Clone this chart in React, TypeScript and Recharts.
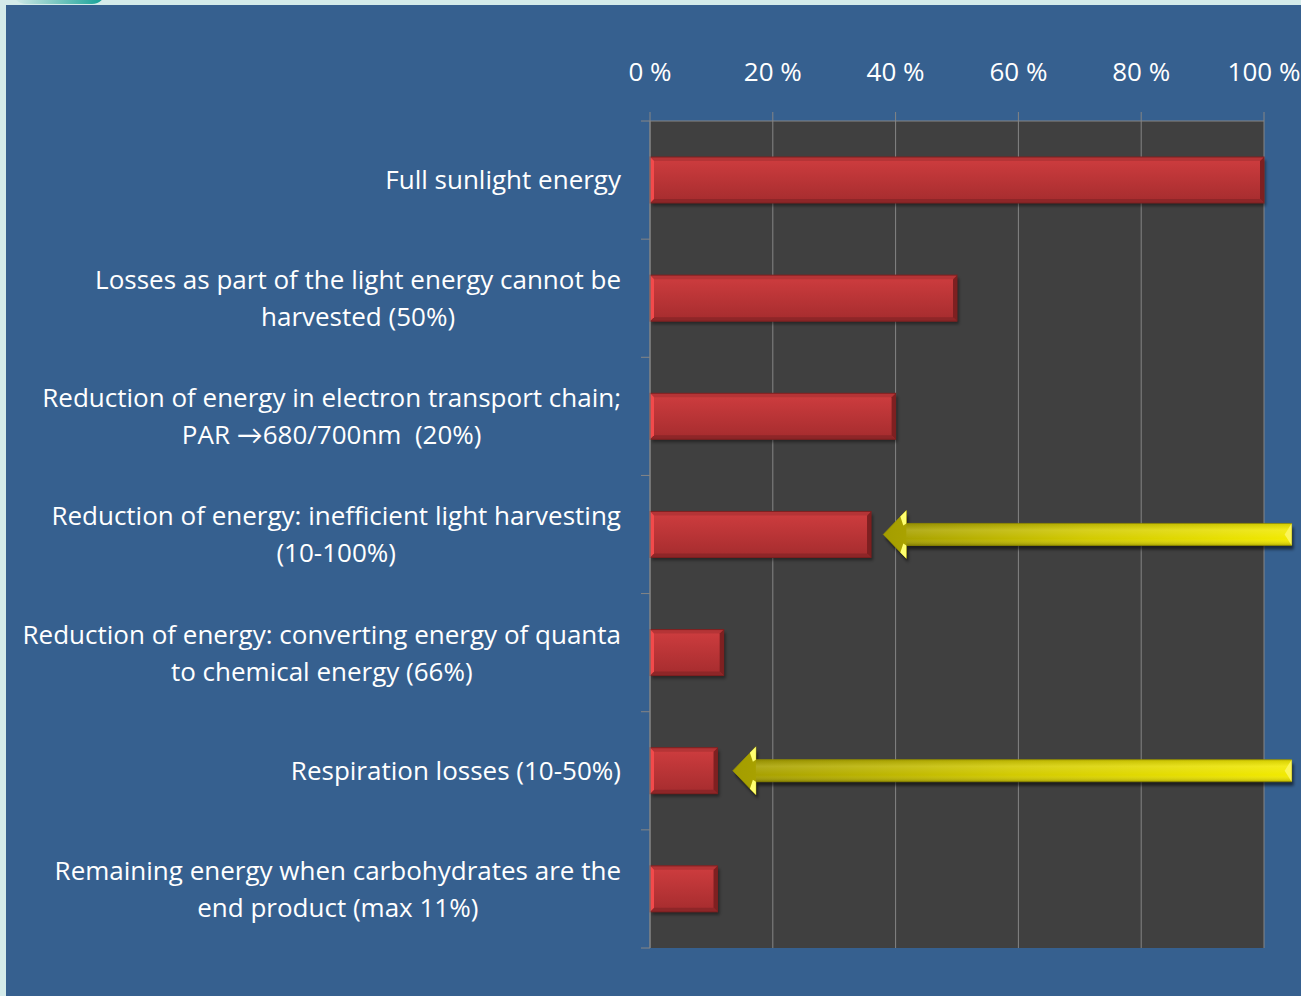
import React from 'react';
import { BarChart, Bar, XAxis, YAxis, CartesianGrid } from 'recharts';

// Energy left at each step of photosynthesis, as share of full sunlight
const categories = [
  'Full sunlight energy',
  'Losses as part of the light energy cannot be\nharvested (50%)',
  'Reduction of energy in electron transport chain;\nPAR \u2192680/700nm\u00a0 (20%)',
  'Reduction of energy: inefficient light harvesting\n(10-100%)',
  'Reduction of energy: converting energy of quanta\nto chemical energy (66%)',
  'Respiration losses (10-50%)',
  'Remaining energy when carbohydrates are the\nend product (max 11%)',
];
const energyShare = [100, 50, 40, 36, 12, 11, 11];
// yellow pointers: value where the head sits (null = none), all run out to ARROW_TAIL
const arrowTips = [null, null, null, 38, null, 13.5, null];
const ARROW_TAIL = 104.5;
const percentTicks = [0, 20, 40, 60, 80, 100];

const data = categories.map((label, i) => ({
  label,
  share: energyShare[i],
  arrowTip: arrowTips[i],
}));

const FONT = '"Open Sans", Lato, sans-serif';
const LABEL_SIZE = 26;
const LINE_H = 37;
const GRID = '#858585';
const PLOT_BG = '#404040';
const PANEL = '#36608f';

const W = 1301;
const H = 996;
const MARGIN = { top: 61, right: 37, bottom: 48, left: 0 };
const X_AXIS_H = 60;
const Y_AXIS_W = 650;
const TICK = 9;
const LABEL_GAP = 20;
const PLOT_H = H - MARGIN.top - MARGIN.bottom - X_AXIS_H;
const HALF_BAND = PLOT_H / categories.length / 2;

const ctx = typeof document !== 'undefined' ? document.createElement('canvas').getContext('2d') : null;
const textWidth = (t: string) => {
  if (!ctx) return t.length * 12;
  ctx.font = `${LABEL_SIZE}px ${FONT}`;
  return ctx.measureText(t).width;
};

// category label: centred lines, right edge of the block on the tick position,
// plus the small ticks on the band boundaries
const CategoryTick = (props: any) => {
  const { x, y, payload, index, visibleTicksCount } = props;
  const lines = String(payload.value).split('\n');
  const blockW = Math.max(...lines.map(textWidth));
  const cx = x - blockW / 2;
  const axisX = x + TICK + LABEL_GAP;
  const top = y - ((lines.length - 1) * LINE_H) / 2;
  return (
    <g>
      <line x1={axisX - TICK} x2={axisX} y1={y - HALF_BAND} y2={y - HALF_BAND} stroke={GRID} />
      {index === visibleTicksCount - 1 && (
        <line x1={axisX - TICK} x2={axisX} y1={y + HALF_BAND} y2={y + HALF_BAND} stroke={GRID} />
      )}
      <text textAnchor="middle" fill="#ffffff" fontSize={LABEL_SIZE} fontFamily={FONT}>
        {lines.map((l, i) => (
          <tspan key={i} x={cx} y={top + i * LINE_H} dy="0.36em">
            {l}
          </tspan>
        ))}
      </text>
    </g>
  );
};

const Pointer = ({ tipX, tailX, cy }: { tipX: number; tailX: number; cy: number }) => {
  const headLen = 23;
  const headHalf = 24;
  const shaftHalf = 11;
  const hx = tipX + headLen;
  const pts = [
    [tipX, cy],
    [hx, cy - headHalf],
    [hx, cy - shaftHalf],
    [tailX, cy - shaftHalf],
    [tailX, cy + shaftHalf],
    [hx, cy + shaftHalf],
    [hx, cy + headHalf],
  ]
    .map((p) => p.join(','))
    .join(' ');
  return (
    <g>
      <polygon points={pts} fill="rgba(0,0,0,0.55)" transform="translate(2,4)" filter="url(#softShadow)" />
      <polygon points={pts} fill="url(#arrowBody)" stroke="#9d9600" strokeWidth={0.8} />
      <rect x={hx} y={cy - shaftHalf} width={tailX - hx} height={shaftHalf * 2} fill="url(#arrowShade)" />
      <polygon
        points={`${hx - 6},${cy - headHalf + 6} ${hx},${cy - headHalf} ${hx},${cy - shaftHalf} ${hx - 3},${cy - shaftHalf + 2}`}
        fill="#ffff70"
      />
      <polygon
        points={`${hx - 6},${cy + headHalf - 6} ${hx},${cy + headHalf} ${hx},${cy + shaftHalf} ${hx - 3},${cy + shaftHalf - 2}`}
        fill="#ffff70"
      />
      <polygon points={`${tailX},${cy - shaftHalf} ${tailX - 7},${cy} ${tailX},${cy + shaftHalf}`} fill="#fbf55a" />
    </g>
  );
};

// raised red bar with bevelled edges and a drop shadow
const BevelBar = (props: any) => {
  const { x, y, width, height, payload } = props;
  if (!width || width <= 0) return null;
  const b = 4;
  const r = x + width;
  const btm = y + height;
  const perUnit = width / payload.share;
  return (
    <g>
      <rect x={x + 2} y={y + 3} width={width} height={height} fill="rgba(0,0,0,0.4)" filter="url(#softShadow)" />
      <rect x={x} y={y} width={width} height={height} fill="url(#barBody)" />
      <polygon points={`${x},${y} ${r},${y} ${r - b},${y + b} ${x + b},${y + b}`} fill="#b53436" />
      <polygon points={`${r},${y} ${r},${btm} ${r - b},${btm - b} ${r - b},${y + b}`} fill="#7e2021" />
      <polygon points={`${x},${btm} ${r},${btm} ${r - b},${btm - b} ${x + b},${btm - b}`} fill="#8e2628" />
      <polygon points={`${x},${y} ${x + b},${y + b} ${x + b},${btm - b} ${x},${btm}`} fill="#f24a4b" />
      <rect x={x} y={y} width={width} height={height} fill="none" stroke="#7c2020" strokeWidth={1} />
      {payload.arrowTip != null && (
        <Pointer tipX={x + payload.arrowTip * perUnit} tailX={x + ARROW_TAIL * perUnit} cy={y + height / 2} />
      )}
    </g>
  );
};

export default function App() {
  return (
    <div style={{ position: 'absolute', left: 0, top: 0, width: W, height: H, overflow: 'hidden', background: '#d4ebea' }}>
      <div
        style={{
          position: 'absolute',
          left: 12,
          top: -10,
          width: 94,
          height: 14,
          borderRadius: '0 0 40px 40px',
          background: 'linear-gradient(90deg, #d4ebea 0%, #7fc9c3 45%, #10a096 100%)',
        }}
      />
      <div style={{ position: 'absolute', left: 6, top: 5, right: 0, bottom: 0, background: PANEL }} />
      <svg width={0} height={0} style={{ position: 'absolute' }}>
        <defs>
          <linearGradient id="barBody" x1="0" y1="0" x2="0" y2="1">
            <stop offset="0%" stopColor="#cf3d3f" />
            <stop offset="100%" stopColor="#a52c2e" />
          </linearGradient>
          <linearGradient id="arrowBody" x1="0" y1="0" x2="1" y2="0">
            <stop offset="0%" stopColor="#a49d00" />
            <stop offset="50%" stopColor="#d2ca00" />
            <stop offset="100%" stopColor="#f2ea00" />
          </linearGradient>
          <linearGradient id="arrowShade" x1="0" y1="0" x2="0" y2="1">
            <stop offset="0%" stopColor="#000" stopOpacity={0.12} />
            <stop offset="30%" stopColor="#fff" stopOpacity={0.12} />
            <stop offset="70%" stopColor="#fff" stopOpacity={0} />
            <stop offset="100%" stopColor="#000" stopOpacity={0.22} />
          </linearGradient>
          <filter id="softShadow" x="-5%" y="-30%" width="110%" height="160%">
            <feGaussianBlur stdDeviation="1.5" />
          </filter>
        </defs>
      </svg>
      <div style={{ position: 'absolute', left: 0, top: 0 }}>
        <BarChart layout="vertical" width={W} height={H} data={data} margin={MARGIN} barSize={46}>
          <CartesianGrid horizontal={false} stroke={GRID} fill={PLOT_BG} fillOpacity={1} />
          <XAxis
            type="number"
            orientation="top"
            domain={[0, 100]}
            ticks={percentTicks}
            interval={0}
            tickFormatter={(v: number) => `${v} %`}
            height={X_AXIS_H}
            axisLine={{ stroke: GRID }}
            tickLine={{ stroke: GRID }}
            tickSize={TICK}
            tickMargin={31}
            tick={{ fill: '#ffffff', fontSize: 26, fontFamily: FONT }}
          />
          <YAxis
            type="category"
            dataKey="label"
            width={Y_AXIS_W}
            interval={0}
            axisLine={{ stroke: GRID }}
            tickLine={false}
            tickSize={TICK}
            tickMargin={LABEL_GAP}
            tick={<CategoryTick />}
          />
          <Bar dataKey="share" shape={<BevelBar />} isAnimationActive={false} />
        </BarChart>
      </div>
    </div>
  );
}
